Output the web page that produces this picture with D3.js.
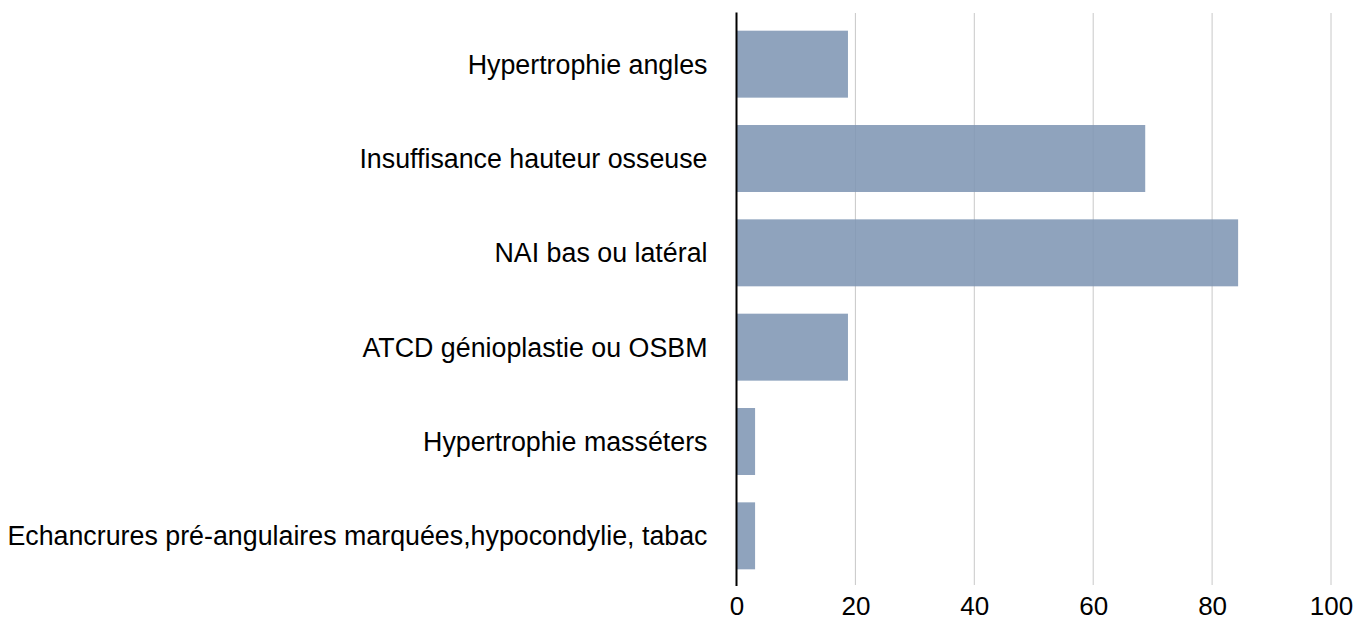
<!DOCTYPE html>
<html lang="fr">
<head>
<meta charset="utf-8" />
<title>Bar Chart</title>
<script src="https://d3js.org/d3.v7.min.js"></script>
<style>
  body { margin: 0; background: #fff; }
  text { font-family: "Liberation Sans", Arial, Helvetica, sans-serif; }
</style>
</head>
<body>
<script>
  // data
  const categories = [
    "Hypertrophie angles",
    "Insuffisance hauteur osseuse",
    "NAI bas ou latéral",
    "ATCD génioplastie ou OSBM",
    "Hypertrophie masséters",
    "Echancrures pré-angulaires marquées,hypocondylie, tabac"
  ];
  const values = [18.75, 68.75, 84.375, 18.75, 3.125, 3.125];
  const tickValues = [0, 20, 40, 60, 80, 100];

  const width = 1367, height = 621;
  const x0 = 736.5, x1 = 1331;

  const svg = d3.select("body").append("svg")
    .attr("width", width)
    .attr("height", height);

  const xScale = d3.scaleLinear().domain([0, 100]).range([x0, x1]);
  const yScale = d3.scaleBand()
    .domain(categories)
    .range([17, 583])
    .paddingInner(0.29)
    .paddingOuter(0.145);

  // gridlines
  svg.append("g")
    .selectAll("line")
    .data(tickValues.filter(d => d > 0))
    .enter()
    .append("line")
    .attr("x1", d => xScale(d))
    .attr("x2", d => xScale(d))
    .attr("y1", 13)
    .attr("y2", 585)
    .attr("stroke", "#c8c8c8")
    .attr("stroke-width", 1);

  // bars
  svg.append("g")
    .selectAll("rect")
    .data(values)
    .enter()
    .append("rect")
    .attr("x", xScale(0))
    .attr("y", (d, i) => yScale(categories[i]))
    .attr("width", d => xScale(d) - xScale(0))
    .attr("height", yScale.bandwidth())
    .attr("fill", "rgb(127,150,180)")
    .attr("fill-opacity", 0.88);

  // category labels
  svg.append("g")
    .selectAll("text")
    .data(categories)
    .enter()
    .append("text")
    .attr("x", x0 - 29)
    .attr("y", d => yScale(d) + yScale.bandwidth() / 2)
    .attr("dy", "0.35em")
    .attr("text-anchor", "end")
    .attr("font-size", "26.8px")
    .attr("fill", "#000")
    .text(d => d);

  // x axis labels
  const xAxis = d3.axisBottom(xScale)
    .tickValues(tickValues)
    .tickSize(0)
    .tickPadding(0);

  const gx = svg.append("g")
    .attr("transform", "translate(0, 597)")
    .call(xAxis);
  gx.select(".domain").remove();
  gx.selectAll("text")
    .attr("font-size", "26px")
    .attr("font-family", "'Liberation Sans', Arial, sans-serif")
    .attr("fill", "#000")
    .attr("dy", "0.71em");

  // vertical axis line
  svg.append("line")
    .attr("x1", x0)
    .attr("x2", x0)
    .attr("y1", 12.5)
    .attr("y2", 586)
    .attr("stroke", "#000")
    .attr("stroke-width", 2);
</script>
</body>
</html>
